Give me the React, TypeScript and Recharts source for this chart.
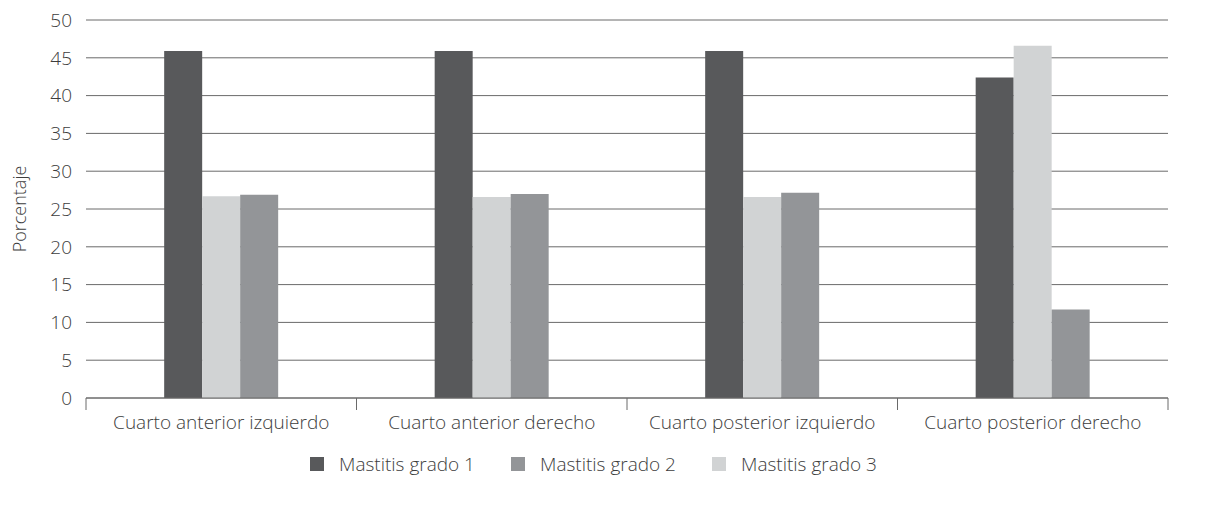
import React from 'react';
import { BarChart, Bar, XAxis, YAxis, CartesianGrid, Legend } from 'recharts';

const categories = [
  'Cuarto anterior izquierdo',
  'Cuarto anterior derecho',
  'Cuarto posterior izquierdo',
  'Cuarto posterior derecho',
];
const grado1 = [45.9, 45.9, 45.9, 42.4];
const grado2 = [26.9, 27.0, 27.15, 11.7];
const grado3 = [26.7, 26.6, 26.6, 46.6];
const yTicks = [0, 5, 10, 15, 20, 25, 30, 35, 40, 45, 50];
const edgeTicks = [0, 1, 2, 3, 4];

const series = [
  { key: 'grado1', name: 'Mastitis grado 1', color: '#58595b' },
  { key: 'grado2', name: 'Mastitis grado 2', color: '#939598' },
  { key: 'grado3', name: 'Mastitis grado 3', color: '#d1d3d4' },
];

const data = categories.map((name, i) => ({
  name,
  slot: i + 0.5, // numeric slot so the separator axis can sit on category edges
  grado1: grado1[i],
  grado2: grado2[i],
  grado3: grado3[i],
}));

// bars are drawn grado 1, grado 3, grado 2 like the original
const barOrder = ['grado1', 'grado3', 'grado2'];

const FONT = '"Open Sans", sans-serif';
const TEXT = '#3d3d3d';
const LINE = '#6a6a6a';

// axis ids: 'a' sits right under the plot (separator ticks), 'b' holds the labels
const EDGE_AXIS = 'a';
const CAT_AXIS = 'b';

const LegendContent = () => (
  <div style={{ display: 'flex', height: 24, paddingLeft: 310, fontFamily: FONT, fontWeight: 300, fontSize: 19, color: TEXT }}>
    {series.map((s) => (
      <div key={s.key} style={{ display: 'flex', alignItems: 'center', width: 201 }}>
        <span style={{ width: 14, height: 14, background: s.color, display: 'inline-block', marginRight: 15 }} />
        <span>{s.name}</span>
      </div>
    ))}
  </div>
);

// eslint-disable-next-line @typescript-eslint/no-explicit-any
const YLabel = (props: any) => {
  const { viewBox } = props;
  const x = viewBox.x + 19;
  const y = viewBox.y + viewBox.height / 2;
  return (
    <text x={x} y={y} transform={`rotate(-90 ${x} ${y})`} textAnchor="middle" dominantBaseline="central"
      fontFamily={FONT} fontWeight={300} fontSize={18} fill={TEXT}>
      Porcentaje
    </text>
  );
};

const tickStyle = { fontFamily: FONT, fontWeight: 300, fontSize: 19, fill: TEXT };

export default function App() {
  return (
    <div style={{ position: 'absolute', left: 0, top: 0 }}>
      <BarChart
        width={1221}
        height={505}
        data={data}
        margin={{ top: 20, right: 0, left: 0, bottom: 22 }}
        barCategoryGap="28.9%"
        barGap={0}
      >
        <CartesianGrid vertical={false} stroke={LINE} yAxisId="left" xAxisId={CAT_AXIS} />
        <XAxis
          xAxisId={EDGE_AXIS}
          dataKey="slot"
          type="number"
          domain={[0, 4]}
          ticks={edgeTicks}
          tick={() => <g />}
          tickSize={12}
          axisLine={{ stroke: LINE }}
          tickLine={{ stroke: LINE }}
          height={1}
        />
        <XAxis
          xAxisId={CAT_AXIS}
          dataKey="name"
          axisLine={false}
          tickLine={false}
          tickSize={6}
          tickMargin={11}
          height={44}
          tick={tickStyle}
          interval={0}
        />
        <YAxis
          yAxisId="left"
          domain={[0, 50]}
          ticks={yTicks}
          width={86}
          axisLine={false}
          tickLine={false}
          tickMargin={8}
          tick={tickStyle}
          label={<YLabel />}
        />
        <YAxis
          yAxisId="right"
          orientation="right"
          domain={[0, 50]}
          ticks={yTicks}
          width={53}
          axisLine={false}
          tickLine={false}
          tickMargin={16}
          tick={tickStyle}
        />
        <Legend verticalAlign="bottom" height={40} content={<LegendContent />} wrapperStyle={{ top: 452, left: 0 }} />
        {barOrder.map((k) => {
          const s = series.find((x) => x.key === k)!;
          return (
            <Bar
              key={k}
              dataKey={k}
              name={s.name}
              fill={s.color}
              xAxisId={CAT_AXIS}
              yAxisId="left"
              isAnimationActive={false}
            />
          );
        })}
      </BarChart>
    </div>
  );
}
